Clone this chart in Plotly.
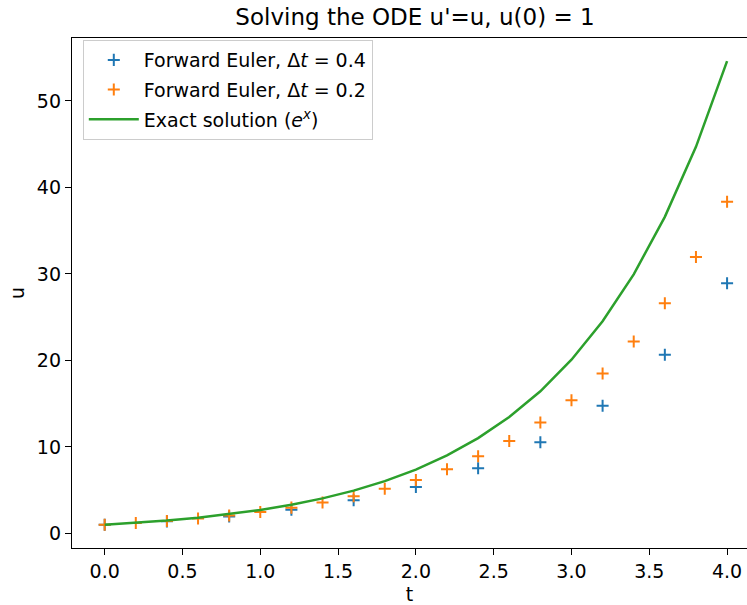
import plotly.graph_objects as go

t_coarse = [0.0, 0.4, 0.8, 1.2, 1.6, 2.0, 2.4, 2.8, 3.2, 3.6, 4.0]
u_coarse = [1.0, 1.4, 1.96, 2.744, 3.842, 5.378, 7.530, 10.54, 14.76, 20.66, 28.93]

t_fine = [0.0, 0.2, 0.4, 0.6, 0.8, 1.0, 1.2, 1.4, 1.6, 1.8, 2.0,
          2.2, 2.4, 2.6, 2.8, 3.0, 3.2, 3.4, 3.6, 3.8, 4.0]
u_fine = [1.0, 1.2, 1.44, 1.728, 2.074, 2.488, 2.986, 3.583, 4.300, 5.160, 6.192,
          7.430, 8.916, 10.70, 12.84, 15.41, 18.49, 22.19, 26.62, 31.95, 38.34]
u_exact = [1.0, 1.221, 1.492, 1.822, 2.226, 2.718, 3.320, 4.055, 4.953, 6.050, 7.389,
           9.025, 11.02, 13.46, 16.44, 20.09, 24.53, 29.96, 36.60, 44.70, 54.60]

x_ticks = [0.0, 0.5, 1.0, 1.5, 2.0, 2.5, 3.0, 3.5, 4.0]
y_ticks = [0, 10, 20, 30, 40, 50]

FONT = "DejaVu Sans"
FS = 19

fig = go.Figure()
fig.add_trace(go.Scatter(
    x=t_coarse, y=u_coarse, mode="markers", legendgroup="a",
    name="Forward Euler, Δ<i>t</i> = 0.4",
    marker=dict(symbol="cross-thin", size=8.6, color="#1f77b4",
                line=dict(color="#1f77b4", width=2)),
))
fig.add_trace(go.Scatter(
    x=t_fine, y=u_fine, mode="markers", legendgroup="b",
    name="Forward Euler, Δ<i>t</i> = 0.2",
    marker=dict(symbol="cross-thin", size=8.6, color="#ff7f0e",
                line=dict(color="#ff7f0e", width=2)),
))
fig.add_trace(go.Scatter(
    x=t_fine, y=u_exact, mode="lines", legendgroup="c",
    name="Exact solution (<i>e</i><sup><i>x</i></sup>)",
    line=dict(color="#2ca02c", width=2.5),
))

fig.update_layout(
    width=747, height=605,
    margin=dict(l=72, r=0, t=38, b=57),
    paper_bgcolor="white", plot_bgcolor="white",
    font=dict(family=FONT, size=FS, color="black"),
    title=dict(text="Solving the ODE u'=u, u(0) = 1", x=415 / 747, xanchor="center",
               y=1 - 17 / 605, yanchor="middle", font=dict(size=23, family=FONT)),
    showlegend=True,
    legend=dict(x=0.016, y=0.996, xanchor="left", yanchor="top",
                bgcolor="rgba(255,255,255,0.8)", bordercolor="#cccccc", borderwidth=1,
                font=dict(size=FS, family=FONT), tracegroupgap=2, itemwidth=50),
)
fig.update_xaxes(
    range=[-0.21, 4.128], tickvals=x_ticks, ticktext=[f"{v:.1f}" for v in x_ticks],
    showgrid=False, zeroline=False, showline=True, linecolor="black", linewidth=1.3,
    mirror=True, ticks="outside", ticklen=6, tickwidth=1.3, tickcolor="black",
    automargin=False,
    title=dict(text="t", font=dict(size=FS), standoff=8),
)
fig.update_yaxes(
    range=[-1.68, 57.28], tickvals=y_ticks,
    showgrid=False, zeroline=False, showline=True, linecolor="black", linewidth=1.3,
    mirror=False, ticks="outside", ticklen=6, tickwidth=1.3, tickcolor="black",
    automargin=False,
    title=dict(text="u", font=dict(size=FS), standoff=7),
)

fig.write_html("out.html", config={"displayModeBar": False},
               post_script="document.body.style.margin='0';document.body.style.overflow='hidden';")
